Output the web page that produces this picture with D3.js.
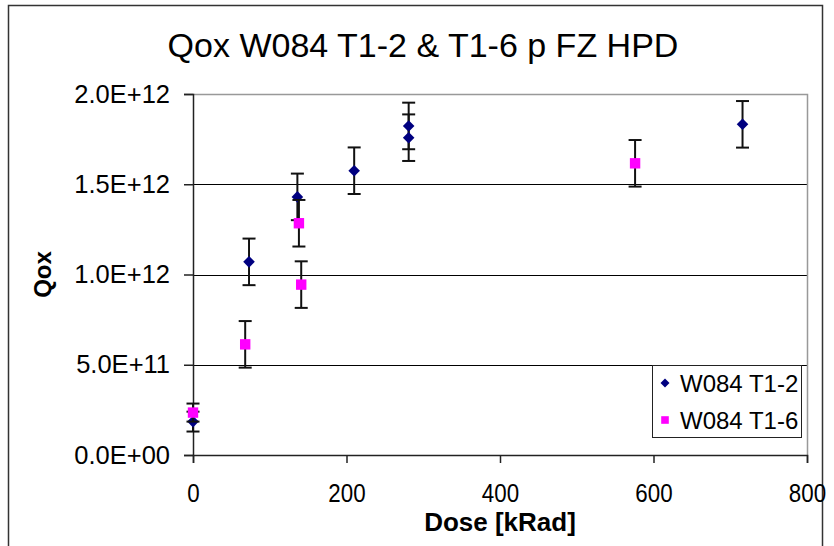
<!DOCTYPE html>
<html>
<head>
<meta charset="utf-8">
<script src="https://d3js.org/d3.v7.min.js"></script>
<style>
  body { margin: 0; background: #fff; }
  svg { display: block; font-family: "Liberation Sans", Arial, sans-serif; }
</style>
</head>
<body>
<div id="chart"></div>
<script>
// data
const xTicks = [0, 200, 400, 600, 800];
const yTicks = [0, 5e11, 1e12, 1.5e12, 2e12];
const yTickLabels = ['0.0E+00', '5.0E+11', '1.0E+12', '1.5E+12', '2.0E+12'];

const t12Name = 'W084 T1-2';
const t12Dose = [0, 73, 136, 210, 281, 281, 716];
const t12Qox = [1.85e11, 1.07e12, 1.43e12, 1.575e12, 1.823e12, 1.758e12, 1.832e12];
const t12Err = [5.5e10, 1.29e11, 1.29e11, 1.29e11, 1.29e11, 1.29e11, 1.29e11];

const t16Name = 'W084 T1-6';
const t16Dose = [0, 68, 138, 141, 576];
const t16Qox = [2.35e11, 6.13e11, 1.284e12, 9.44e11, 1.616e12];
const t16Err = [5e10, 1.29e11, 1.29e11, 1.29e11, 1.29e11];

const width = 834, height = 546;
const plot = { left: 193, right: 807, top: 94, bottom: 455 };

const svg = d3.select('#chart').append('svg')
    .attr('width', width)
    .attr('height', height);

// outer chart frame
svg.append('rect')
    .attr('x', 8.5).attr('y', 5.5)
    .attr('width', 814).attr('height', 560)
    .attr('fill', 'none').attr('stroke', '#333').attr('stroke-width', 1.5);

const x = d3.scaleLinear().domain([0, 800]).range([plot.left, plot.right]);
const y = d3.scaleLinear().domain([0, 2e12]).range([plot.bottom, plot.top]);

// gridlines
svg.append('g')
    .selectAll('line')
    .data(yTicks.slice(1))
    .join('line')
    .attr('x1', plot.left).attr('x2', plot.right)
    .attr('y1', d => Math.round(y(d)) + 0.5).attr('y2', d => Math.round(y(d)) + 0.5)
    .attr('stroke', '#000').attr('stroke-width', 1);

// grey plot border (top/right)
svg.append('path')
    .attr('d', `M${plot.left},${plot.top + 0.5}H${plot.right + 0.5}V${plot.bottom}`)
    .attr('fill', 'none').attr('stroke', '#999').attr('stroke-width', 1.5);

// axes
const yAxis = svg.append('g')
    .attr('transform', `translate(${plot.left},0)`)
    .call(d3.axisLeft(y).tickValues(yTicks)
        .tickFormat((d, i) => yTickLabels[i]).tickSize(9).tickPadding(14));
const xAxis = svg.append('g')
    .attr('transform', `translate(0,${plot.bottom})`)
    .call(d3.axisBottom(x).tickValues(xTicks).tickFormat(d3.format('d'))
        .tickSize(8));

[xAxis, yAxis].forEach(g => {
    g.select('.domain').attr('stroke', '#222').attr('stroke-width', 1.5);
    g.selectAll('.tick line').attr('stroke', '#222').attr('stroke-width', 1.5);
    g.selectAll('.tick text')
        .attr('fill', '#000')
        .attr('font-family', '"Liberation Sans", Arial, sans-serif');
});
yAxis.selectAll('.tick text').attr('font-size', '25.5px');
// x labels are drawn a bit condensed in the reference
xAxis.selectAll('.tick text')
    .attr('font-size', '26px')
    .attr('y', 47).attr('dy', 0)
    .attr('transform', 'scale(0.86,1)');

// titles
svg.append('text')
    .attr('x', 423).attr('y', 57)
    .attr('text-anchor', 'middle')
    .attr('font-size', '34px')
    .text('Qox W084 T1-2 & T1-6 p FZ HPD');

svg.append('text')
    .attr('x', (plot.left + plot.right) / 2).attr('y', 531)
    .attr('text-anchor', 'middle')
    .attr('font-size', '26px').attr('font-weight', 'bold')
    .text('Dose [kRad]');

svg.append('text')
    .attr('transform', `translate(51,${(plot.top + plot.bottom) / 2}) rotate(-90)`)
    .attr('text-anchor', 'middle')
    .attr('font-size', '24px').attr('font-weight', 'bold')
    .text('Qox');

// series
const series = [
    { name: t12Name, dose: t12Dose, qox: t12Qox, err: t12Err, color: '#000080', shape: 'diamond', size: 5.8 },
    { name: t16Name, dose: t16Dose, qox: t16Qox, err: t16Err, color: '#FF00FF', shape: 'square', size: 5.2 }
];

function marker(g, shape, cx, cy, s, color) {
    if (shape === 'diamond') {
        g.append('path')
            .attr('d', `M${cx},${cy - s}L${cx + s},${cy}L${cx},${cy + s}L${cx - s},${cy}Z`)
            .attr('fill', color);
    } else {
        g.append('rect')
            .attr('x', cx - s).attr('y', cy - s)
            .attr('width', 2 * s).attr('height', 2 * s)
            .attr('fill', color);
    }
}

series.forEach(s => {
    const pts = s.dose.map((d, i) => ({ d, v: s.qox[i], e: s.err[i] }));
    const eg = svg.append('g').attr('stroke', '#111').attr('stroke-width', 2);
    pts.forEach(p => {
        const cx = x(p.d), y1 = y(p.v + p.e), y2 = y(p.v - p.e);
        eg.append('line').attr('x1', cx).attr('x2', cx).attr('y1', y1).attr('y2', y2);
        eg.append('line').attr('x1', cx - 6.5).attr('x2', cx + 6.5).attr('y1', y1).attr('y2', y1);
        eg.append('line').attr('x1', cx - 6.5).attr('x2', cx + 6.5).attr('y1', y2).attr('y2', y2);
    });
    const mg = svg.append('g');
    pts.forEach(p => marker(mg, s.shape, x(p.d), y(p.v), s.size, s.color));
});

// legend
const lg = svg.append('g');
lg.append('rect')
    .attr('x', 652.5).attr('y', 365.5).attr('width', 149).attr('height', 72)
    .attr('fill', '#fff').attr('stroke', '#222').attr('stroke-width', 1);
series.forEach((s, i) => {
    const cy = 383 + i * 37;
    marker(lg, s.shape, 665, cy, s.shape === 'diamond' ? 4.5 : 3.8, s.color);
    lg.append('text')
        .attr('x', 680).attr('y', cy + 9)
        .attr('font-size', '24px')
        .text(s.name);
});
</script>
</body>
</html>
